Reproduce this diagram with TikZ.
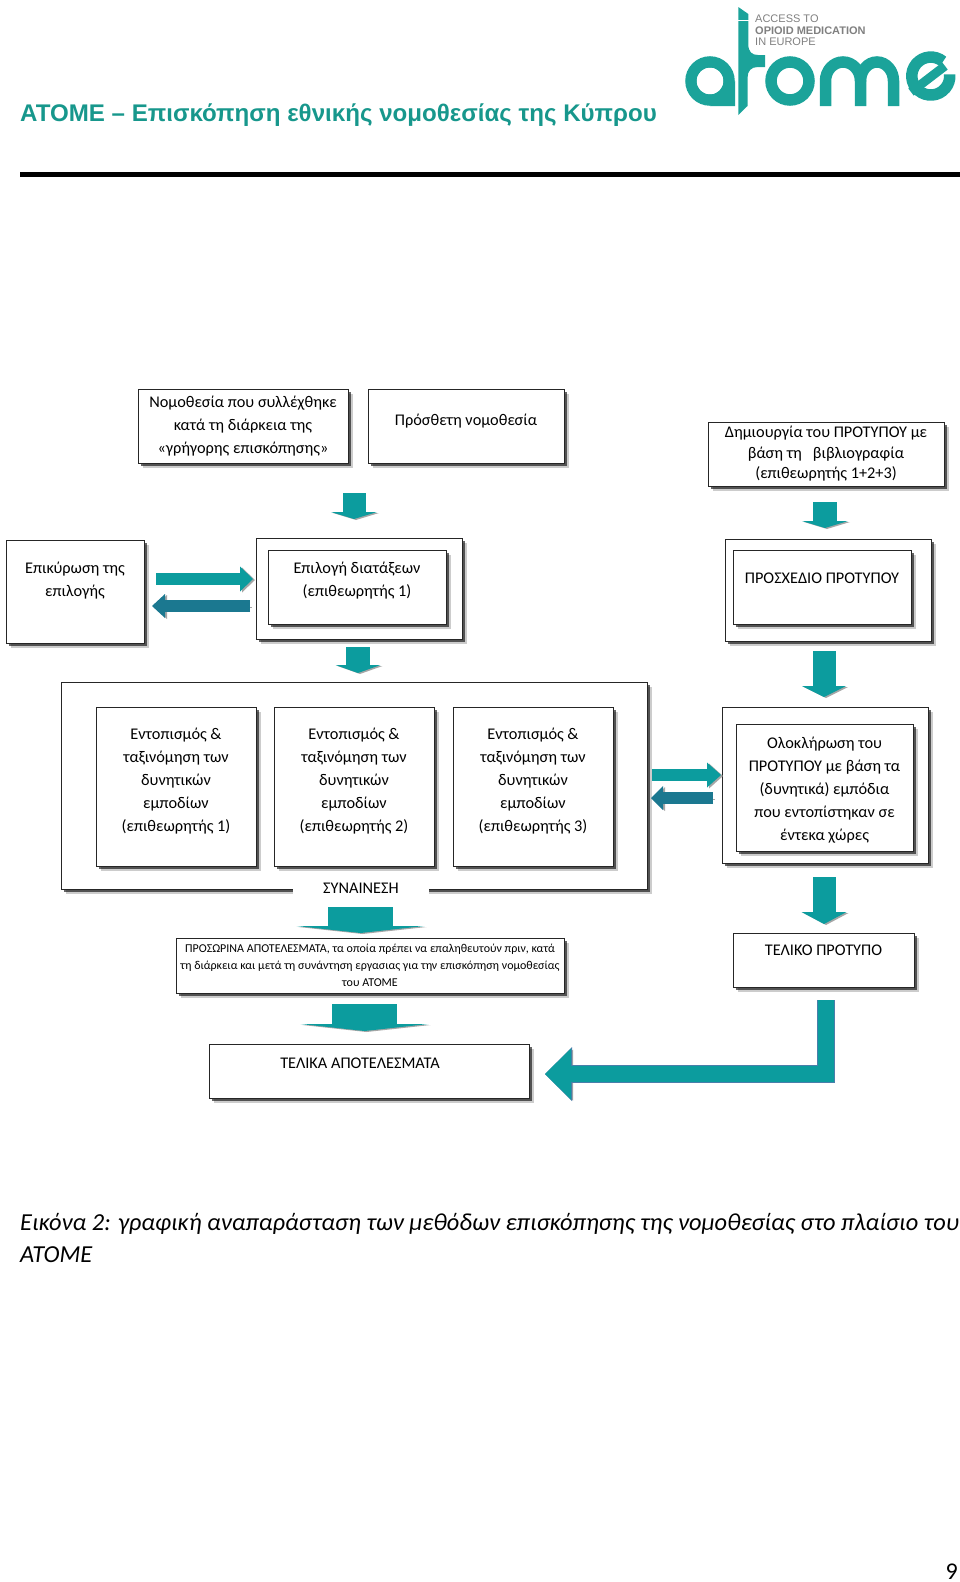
\documentclass[tikz,border=0pt]{standalone}
\usepackage{fontspec}
\setmainfont{Carlito}
\newfontfamily\arialfont{Liberation Sans}
\usetikzlibrary{shadows,arrows.meta}
\definecolor{atometeal}{HTML}{1BA39A}
\definecolor{titleteal}{HTML}{17978C}
\definecolor{arrowteal}{HTML}{0C9C9E}
\definecolor{arrowdark}{HTML}{1B7890}
\definecolor{arrowedge}{HTML}{4A7EAA}
\tikzset{
	box/.style 2 args={draw=black!85, line width=0.9pt, fill=white, inner sep=0pt, outer sep=0pt, align=center,
		minimum width=#1, minimum height=#2, font=\fontsize{16.3}{23}\selectfont,
		general shadow={shadow xshift=5pt, shadow yshift=-5pt, fill=black, opacity=0.2},
		general shadow={shadow xshift=3pt, shadow yshift=-3pt, fill=black, opacity=0.6}},
	blockarrow/.style n args={3}{draw=arrowteal, line width=#1, -{Triangle[length=#2, width=#3, line width=0pt]},
		preaction={draw=black!35, transform canvas={xshift=2pt, yshift=-1pt}}},
	logoline/.style={draw=atometeal, line width=11.5pt}
}
\begin{document}
\begin{tikzpicture}[x=1pt, y=-1pt]
	\useasboundingbox (0,0) rectangle (960,1582);
	% Title
	\node[anchor=base west, inner sep=0pt, text=titleteal, font=\arialfont\bfseries\fontsize{24.1}{28}\selectfont] (title) at (20,121) {ATOME – Επισκόπηση εθνικής νομοθεσίας της Κύπρου};
	\fill[black] (20,172) rectangle (960,177);
	% Logo
	\draw[logoline] (710,81) circle (19);
	\fill[atometeal] (735,81) -- (735,106) -- (710,106) -- cycle;
	\fill[white] (710,81) circle (13.2);
	\fill[atometeal] (738.3,7) -- (748.3,14) -- (748.3,44) .. controls (748.3,52) and (752,55) .. (758,55) -- (765,55) -- (765,67) -- (758,67) .. controls (751,67) and (747.5,71) .. (747.5,78) -- (747.5,106) -- (738.3,115) -- cycle;
	\draw[white, line width=0.8pt] (738,20) -- (749,20);
	\draw[logoline] (790,81) circle (19);
	\draw[logoline] (825.5,106) -- (825.5,81) arc[start angle=180, end angle=360, x radius=17.5, y radius=19] -- (860.5,106);
	\draw[logoline] (860.5,81) arc[start angle=180, end angle=360, x radius=16.5, y radius=19] -- (893.5,106);
	\draw[logoline] (928,55.5) ++(15,6) arc[start angle=310, end angle=-5, radius=19];
	\draw[atometeal, line width=9pt] (945,66) -- (911,92);
	\node[anchor=base west, inner sep=0pt, text=black!50, font=\arialfont\fontsize{11}{12}\selectfont] (logoa) at (755,23) {ACCESS TO};
	\node[anchor=base west, inner sep=0pt, text=black!50, font=\arialfont\bfseries\fontsize{11}{12}\selectfont] (logob) at (755,34) {OPIOID MEDICATION};
	\node[anchor=base west, inner sep=0pt, text=black!50, font=\arialfont\fontsize{11}{12}\selectfont] (logoc) at (755,45) {IN EUROPE};
	% Row 1
	\node[box={210}{74}] (collected) at (243,426) {Νομοθεσία που συλλέχθηκε\\κατά τη διάρκεια της\\«γρήγορης επισκόπησης»};
	\node[box={196}{74}] (additional) at (466,426) {Πρόσθετη νομοθεσία\\[-11pt]\mbox{}};
	\node[box={236}{64}, font=\fontsize{16.3}{20.5}\selectfont] (literature) at (826,454) {Δημιουργία του ΠΡΟΤΥΠΟΥ με\\βάση τη\ \ \ βιβλιογραφία\\(επιθεωρητής 1+2+3)};
	% Row 2
	\node[box={138}{103}] (validate) at (75,591.5) {Επικύρωση της\\επιλογής\\[2pt]\mbox{}};
	\node[box={206}{101}] (selectframe) at (359,588.5) {};
	\node[box={178}{74}] (selection) at (357,587) {Επιλογή διατάξεων\\(επιθεωρητής 1)\\[-8pt]\mbox{}};
	\node[box={206}{102}] (draftframe) at (828,590) {};
	\node[box={178}{74}] (draft) at (822,587) {ΠΡΟΣΧΕΔΙΟ ΠΡΟΤΥΠΟΥ\\[-5pt]\mbox{}};
	% Row 3
	\node[box={586}{207}] (barrierframe) at (354,785.5) {};
	\node[box={160}{159}] (barriera) at (176,786.5) {Εντοπισμός \&\\ταξινόμηση των\\δυνητικών\\εμποδίων\\(επιθεωρητής 1)\\[-10pt]\mbox{}};
	\node[box={160}{159}] (barrierb) at (354,786.5) {Εντοπισμός \&\\ταξινόμηση των\\δυνητικών\\εμποδίων\\(επιθεωρητής 2)\\[-10pt]\mbox{}};
	\node[box={160}{159}] (barrierc) at (533,786.5) {Εντοπισμός \&\\ταξινόμηση των\\δυνητικών\\εμποδίων\\(επιθεωρητής 3)\\[-10pt]\mbox{}};
	\node[box={206}{156}] (integrateframe) at (825,785) {};
	\node[box={177}{127}] (integrate) at (824.5,787.5) {\mbox{}\\[-7pt]Ολοκλήρωση του\\ΠΡΟΤΥΠΟΥ με βάση τα\\(δυνητικά) εμπόδια\\που εντοπίστηκαν σε\\έντεκα χώρες};
	\node[fill=white, inner sep=0pt, minimum width=136, minimum height=33, font=\fontsize{16.3}{23}\selectfont] (consensus) at (361,888.5) {ΣΥΝΑΙΝΕΣΗ};
	% Row 4
	\node[box={388}{55}, font=\fontsize{12}{17}\selectfont] (interim) at (370,965.5) {ΠΡΟΣΩΡΙΝΑ ΑΠΟΤΕΛΕΣΜΑΤΑ, τα οποία πρέπει να επαληθευτούν πριν, κατά\\τη διάρκεια και μετά τη συνάντηση εργασιας για την επισκόπηση νομοθεσίας\\του ATOME};
	\node[box={181}{54}] (finalmodel) at (823.5,960) {ΤΕΛΙΚΟ ΠΡΟΤΥΠΟ\\[-3pt]\mbox{}};
	\node[box={320}{54}] (finalresults) at (369,1071) {\hspace*{-18pt}ΤΕΛΙΚΑ ΑΠΟΤΕΛΕΣΜΑΤΑ\\[-8pt]\mbox{}};
	% Arrows
	\coordinate (ara) at (354,493); \coordinate (arb) at (354,519);
	\draw[blockarrow={23}{7}{46}] (ara) -- (arb);
	\coordinate (arc) at (825,502); \coordinate (ard) at (825,528);
	\draw[blockarrow={24}{7}{46}] (arc) -- (ard);
	\coordinate (are) at (358,647); \coordinate (arf) at (358,673);
	\draw[blockarrow={24}{8}{45}] (are) -- (arf);
	\coordinate (arg) at (824,651); \coordinate (arh) at (824,697);
	\draw[blockarrow={23}{11}{44}] (arg) -- (arh);
	\coordinate (ari) at (824,877); \coordinate (arj) at (824,924);
	\draw[blockarrow={23}{12}{45}] (ari) -- (arj);
	\coordinate (ark) at (360.5,907); \coordinate (arl) at (360.5,933);
	\draw[blockarrow={65}{7}{128}] (ark) -- (arl);
	\coordinate (arm) at (364.5,1004); \coordinate (arn) at (364.5,1031);
	\draw[blockarrow={65}{7}{128}] (arm) -- (arn);
	% Pairs
	\coordinate (aro) at (156,579); \coordinate (arp) at (253,579);
	\draw[blockarrow={12}{13}{25}] (aro) -- (arp);
	\coordinate (arq) at (250,606); \coordinate (arr) at (152,606);
	\draw[blockarrow={12}{13}{24}, draw=arrowdark] (arq) -- (arr);
	\coordinate (ars) at (652,775); \coordinate (art) at (721,775);
	\draw[blockarrow={12}{14}{25}] (ars) -- (art);
	\coordinate (aru) at (713,798); \coordinate (arv) at (651,798);
	\draw[blockarrow={12}{12}{24}, draw=arrowdark] (aru) -- (arv);
	% Return arrow
	\coordinate (arw) at (826,1000); \coordinate (arx) at (545,1074);
	\draw[blockarrow={16}{26}{51}, preaction={draw=arrowedge, line width=18pt, -{Triangle[length=27, width=54, line width=0pt]}}] (arw) |- (arx);
	% Caption
	\node[anchor=base west, inner sep=0pt, font=\itshape\fontsize{24.4}{32}\selectfont] (captiona) at (20,1230) {Εικόνα 2: γραφική αναπαράσταση των μεθόδων επισκόπησης της νομοθεσίας στο πλαίσιο του};
	\node[anchor=base west, inner sep=0pt, font=\itshape\fontsize{24.4}{32}\selectfont] (captionb) at (20,1262) {ATOME};
	\node[anchor=base east, inner sep=0pt, font=\fontsize{24}{30}\selectfont] (pagenum) at (958,1579) {9};
\end{tikzpicture}
\end{document}
